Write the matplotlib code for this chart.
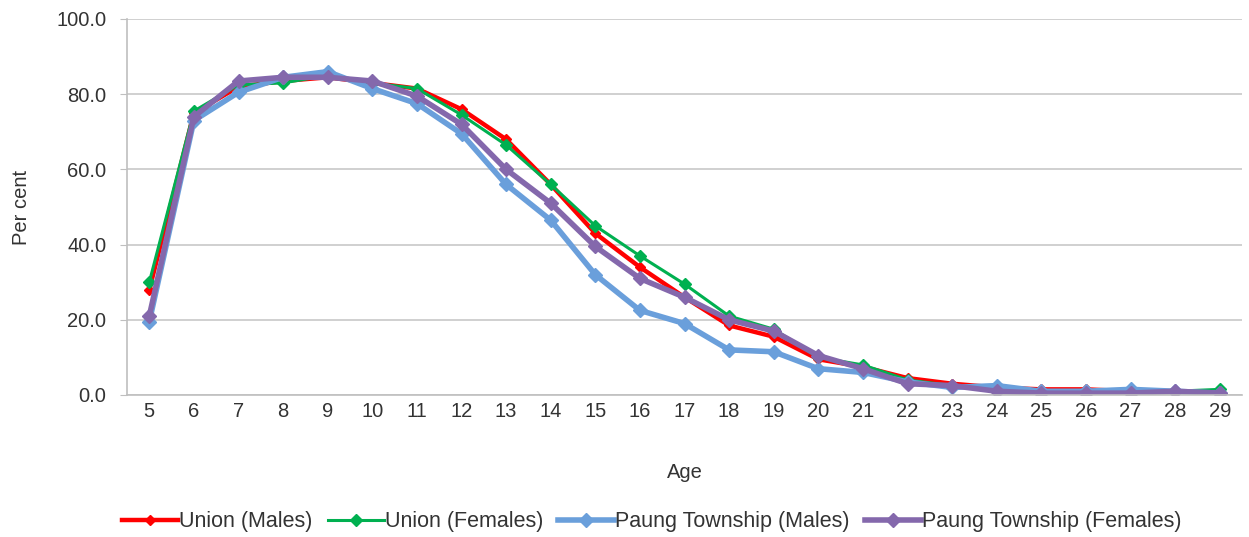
import matplotlib
matplotlib.use("Agg")
import matplotlib.pyplot as plt

ages = list(range(5, 30))
union_males = [28, 75, 82, 83.5, 84.5, 83, 81.5, 76, 68, 56, 43, 34, 26, 18.5, 15.5,
               9.5, 7.5, 4.5, 3, 2, 1.5, 1.5, 1, 1, 1]
union_females = [30, 75.5, 82.5, 83, 85, 83, 81.5, 74.5, 66.5, 56, 45, 37, 29.5, 21, 17.5,
                 10, 8, 4, 2.5, 1.5, 1, 1, 1, 1, 1.5]
paung_males = [19.5, 73, 80.5, 84.5, 86, 81.5, 77.5, 69.5, 56, 46.5, 32, 22.5, 19, 12, 11.5,
               7, 6, 3.5, 2, 2.5, 1, 1, 1.5, 1, 0.5]
paung_females = [21, 74, 83.5, 84.5, 84.5, 83.5, 79.5, 72, 60, 51, 39.5, 31, 26, 20, 17,
                 10.5, 7, 3, 2.5, 1, 0.5, 0.5, 0.5, 1, 0.5]

series = [
    ("Union (Males)", union_males, "#FF0000", 3.2, 7),
    ("Union (Females)", union_females, "#00B050", 2.2, 8),
    ("Paung Township (Males)", paung_males, "#6A9FDB", 4.0, 10),
    ("Paung Township (Females)", paung_females, "#8468AC", 4.0, 10),
]

FS = 14.5
TXT = "#333333"
plt.rcParams['font.family'] = ['Liberation Sans', 'DejaVu Sans']
fig = plt.figure(figsize=(12.49, 5.37), dpi=100)
ax = fig.add_axes([127/1249, 1 - 395/537, (1242-127)/1249, (395-19)/537])

x = list(range(len(ages)))
for label, vals, color, lw, ms in series:
    ax.plot(x, vals, color=color, lw=lw, marker="D", markersize=ms * 0.75,
            markeredgecolor=color, label=label, solid_joinstyle="round")

ax.set_xlim(-0.5, len(ages) - 0.5)
ax.set_ylim(0, 100)
ax.set_yticks([0, 20, 40, 60, 80, 100])
ax.set_yticklabels([f"{v:.1f}" for v in [0, 20, 40, 60, 80, 100]], fontsize=FS, color=TXT)
ax.set_xticks(x)
ax.set_xticklabels([str(a) for a in ages], fontsize=FS, color=TXT)
ax.tick_params(axis="x", length=0, pad=5)
ax.tick_params(axis="y", length=5, color="#BFBFBF", pad=10)
ax.grid(axis="y", color="#C8C8C8", lw=1.2)
ax.set_axisbelow(True)
for s in ["top", "right"]:
    ax.spines[s].set_visible(False)
for s in ["left", "bottom"]:
    ax.spines[s].set_color("#BFBFBF")
    ax.spines[s].set_linewidth(1.2)

ax.set_xlabel("Age", fontsize=FS, color=TXT, labelpad=30)
ax.set_ylabel("Per cent", fontsize=FS, color=TXT, labelpad=18)

leg = fig.legend(loc="center", bbox_to_anchor=(0.522, 1 - 522/537), ncol=4, frameon=False,
                 fontsize=15.5, handlelength=2.6, handletextpad=0.05, columnspacing=0.7)
for t in leg.get_texts():
    t.set_color(TXT)

fig.savefig("out.png", dpi=100)
